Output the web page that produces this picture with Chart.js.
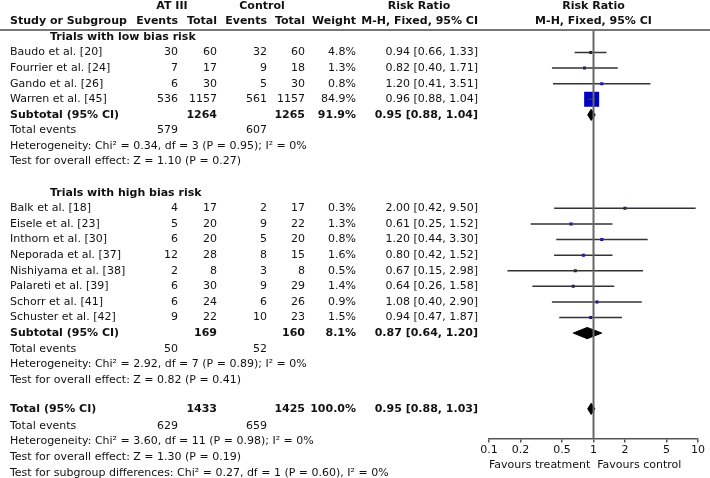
<!DOCTYPE html>
<html>
<head>
<meta charset="utf-8">
<script src="https://cdn.jsdelivr.net/npm/chart.js@4.4.1/dist/chart.umd.min.js"></script>
<style>
html, body { margin: 0; padding: 0; background: #fff; }
#wrap { width: 710px; height: 478px; }
</style>
</head>
<body>
<div id="wrap"><canvas id="forest" width="710" height="478"></canvas></div>
<script>
// trials with low bias risk
var lowStudies = ['Baudo et al. [20]', 'Fourrier et al. [24]', 'Gando et al. [26]', 'Warren et al. [45]'];
var lowAtEvents = [30, 7, 6, 536];
var lowAtTotal = [60, 17, 30, 1157];
var lowCtEvents = [32, 9, 5, 561];
var lowCtTotal = [60, 18, 30, 1157];
var lowWeight = [4.8, 1.3, 0.8, 84.9];
var lowRR = [0.94, 0.82, 1.20, 0.96];
var lowLo = [0.66, 0.40, 0.41, 0.88];
var lowHi = [1.33, 1.71, 3.51, 1.04];

// trials with high bias risk
var highStudies = ['Balk et al. [18]', 'Eisele et al. [23]', 'Inthorn et al. [30]', 'Neporada et al. [37]',
  'Nishiyama et al. [38]', 'Palareti et al. [39]', 'Schorr et al. [41]', 'Schuster et al. [42]'];
var highAtEvents = [4, 5, 6, 12, 2, 6, 6, 9];
var highAtTotal = [17, 20, 20, 28, 8, 30, 24, 22];
var highCtEvents = [2, 9, 5, 8, 3, 9, 6, 10];
var highCtTotal = [17, 22, 20, 15, 8, 29, 26, 23];
var highWeight = [0.3, 1.3, 0.8, 1.6, 0.5, 1.4, 0.9, 1.5];
var highRR = [2.00, 0.61, 1.20, 0.80, 0.67, 0.64, 1.08, 0.94];
var highLo = [0.42, 0.25, 0.44, 0.42, 0.15, 0.26, 0.40, 0.47];
var highHi = [9.50, 1.52, 3.30, 1.52, 2.98, 1.58, 2.90, 1.87];

// pooled results: [low, high, overall]
var poolAtTotal = [1264, 169, 1433];
var poolCtTotal = [1265, 160, 1425];
var poolWeight = [91.9, 8.1, 100.0];
var poolRR = [0.95, 0.87, 0.95];
var poolLo = [0.88, 0.64, 0.88];
var poolHi = [1.04, 1.20, 1.03];
var poolAtEvents = [579, 50, 629];
var poolCtEvents = [607, 52, 659];
var poolHet = ['Chi\u00b2 = 0.34, df = 3 (P = 0.95); I\u00b2 = 0%',
  'Chi\u00b2 = 2.92, df = 7 (P = 0.89); I\u00b2 = 0%',
  'Chi\u00b2 = 3.60, df = 11 (P = 0.98); I\u00b2 = 0%'];
var poolZ = ['Z = 1.10 (P = 0.27)', 'Z = 0.82 (P = 0.41)', 'Z = 1.30 (P = 0.19)'];
var subgroupTest = 'Chi\u00b2 = 0.27, df = 1 (P = 0.60), I\u00b2 = 0%';

var axisTicks = [0.1, 0.2, 0.5, 1, 2, 5, 10];

var FONT = '"DejaVu Sans", sans-serif';
var TXT = '#111';
var col = {name: 10, group: 50, atE: 178, atT: 217, ctE: 267, ctT: 305, w: 356, rr: 478};
var ruleRow = 1.55;
var halfDiamond = 0.36;

// build the table rows; each row sits at a y value in row units
var rows = [];
var cursor = 0;
function addRow(cells, step) { rows.push({y: cursor, cells: cells}); cursor += (step || 1); return rows[rows.length - 1].y; }
function cell(text, x, align, bold) { return {text: String(text), x: x, align: align || 'right', bold: !!bold}; }
function rr(e, l, h) { return e.toFixed(2) + ' [' + l.toFixed(2) + ', ' + h.toFixed(2) + ']'; }

addRow([cell('AT III', 172, 'center', true), cell('Control', 262, 'center', true), cell('Risk Ratio', 419, 'center', true), cell('Risk Ratio', 'ref', 'center', true)]);
addRow([cell('Study or Subgroup', col.name, 'left', true), cell('Events', col.atE, 'right', true), cell('Total', col.atT, 'right', true),
  cell('Events', col.ctE, 'right', true), cell('Total', col.ctT, 'right', true), cell('Weight', col.w, 'right', true),
  cell('M-H, Fixed, 95% CI', col.rr, 'right', true), cell('M-H, Fixed, 95% CI', 'ref', 'center', true)]);

var studyRows = [], poolRows = [];
function addGroup(title, names, ae, at, ce, ct, w, est, lo, hi, g) {
  addRow([cell(title, col.group, 'left', true)]);
  for (var i = 0; i < names.length; i++) {
    var r = addRow([cell(names[i], col.name, 'left'), cell(ae[i], col.atE), cell(at[i], col.atT), cell(ce[i], col.ctE),
      cell(ct[i], col.ctT), cell(w[i].toFixed(1) + '%', col.w), cell(rr(est[i], lo[i], hi[i]), col.rr)]);
    studyRows.push({row: r, est: est[i], lo: lo[i], hi: hi[i], w: w[i]});
  }
  addPooled('Subtotal (95% CI)', g, 1);
}
function addPooled(label, g, step) {
  var r = addRow([cell(label, col.name, 'left', true), cell(poolAtTotal[g], col.atT, 'right', true), cell(poolCtTotal[g], col.ctT, 'right', true),
    cell(poolWeight[g].toFixed(1) + '%', col.w, 'right', true), cell(rr(poolRR[g], poolLo[g], poolHi[g]), col.rr, 'right', true)], step);
  poolRows.push({row: r, est: poolRR[g], lo: poolLo[g], hi: poolHi[g]});
  addRow([cell('Total events', col.name, 'left'), cell(poolAtEvents[g], col.atE), cell(poolCtEvents[g], col.ctE)]);
  addRow([cell('Heterogeneity: ' + poolHet[g], col.name, 'left')]);
  addRow([cell('Test for overall effect: ' + poolZ[g], col.name, 'left')]);
}
addGroup('Trials with low bias risk', lowStudies, lowAtEvents, lowAtTotal, lowCtEvents, lowCtTotal, lowWeight, lowRR, lowLo, lowHi, 0);
cursor += 1;
addGroup('Trials with high bias risk', highStudies, highAtEvents, highAtTotal, highCtEvents, highCtTotal, highWeight, highRR, highLo, highHi, 1);
cursor += 0.86;
addPooled('Total (95% CI)', 2, 1.1);
addRow([cell('Test for subgroup differences: ' + subgroupTest, col.name, 'left')]);

// datasets
var datasets = [];
datasets.push({type: 'line', showLine: true, data: [{x: 1, y: ruleRow}, {x: 1, y: 40}], borderColor: '#666',
  borderWidth: 2, pointRadius: 0, fill: false});
studyRows.forEach(function (s) {
  datasets.push({type: 'line', showLine: true, data: [{x: s.lo, y: s.row}, {x: s.hi, y: s.row}], borderColor: '#333',
    borderWidth: 1.5, pointRadius: 0, fill: false});
});
datasets.push({
  type: 'scatter',
  data: studyRows.map(function (s) { return {x: s.est, y: s.row}; }),
  pointStyle: 'rect',
  pointRadius: studyRows.map(function (s) { return Math.max(3, 15 * s.w / 84.9) / (2 * Math.SQRT1_2); }),
  backgroundColor: '#0000c4', borderWidth: 0
});
poolRows.forEach(function (p) {
  datasets.push({type: 'line', showLine: true, fill: 'shape', backgroundColor: '#000', borderColor: '#000', borderWidth: 1,
    pointRadius: 0, tension: 0,
    data: [{x: p.lo, y: p.row}, {x: p.est, y: p.row - halfDiamond}, {x: p.hi, y: p.row},
      {x: p.est, y: p.row + halfDiamond}, {x: p.lo, y: p.row}]});
});

var tablePlugin = {
  id: 'table',
  afterDraw: function (chart) {
    var ctx = chart.ctx, y = chart.scales.y, x = chart.scales.x;
    ctx.save();
    // header rule
    ctx.strokeStyle = '#777';
    ctx.lineWidth = 2;
    ctx.beginPath();
    ctx.moveTo(0, y.getPixelForValue(ruleRow));
    ctx.lineTo(710, y.getPixelForValue(ruleRow));
    ctx.stroke();
    ctx.fillStyle = TXT;
    ctx.textBaseline = 'middle';
    rows.forEach(function (row) {
      var py = y.getPixelForValue(row.y);
      row.cells.forEach(function (c) {
        ctx.font = (c.bold ? 'bold ' : '') + '11px ' + FONT;
        ctx.textAlign = c.align;
        var px = c.x === 'ref' ? x.getPixelForValue(1) : c.x;
        ctx.fillText(c.text, px, py);
      });
    });
    ctx.restore();
  }
};

new Chart(document.getElementById('forest'), {
  type: 'scatter',
  data: {datasets: datasets},
  options: {
    responsive: false,
    animation: false,
    devicePixelRatio: 1,
    layout: {autoPadding: false, padding: {left: 489, right: 12, top: 0, bottom: 4}},
    plugins: {legend: {display: false}, tooltip: {enabled: false}},
    scales: {
      x: {
        type: 'logarithmic', min: 0.1, max: 10,
        afterBuildTicks: function (s) { s.ticks = axisTicks.map(function (v) { return {value: v}; }); },
        ticks: {autoSkip: false, maxRotation: 0, padding: 1, color: TXT, font: {family: FONT, size: 11},
          callback: function (v) { return String(v); }},
        grid: {drawOnChartArea: false, tickLength: 4, color: '#555', lineWidth: 1.5},
        border: {color: '#555', width: 1.5},
        title: {display: true, text: 'Favours treatment  Favours control', align: 'start', color: TXT,
          font: {family: FONT, size: 11}, padding: {top: 1, bottom: 2}}
      },
      y: {type: 'linear', reverse: true, min: -0.368, max: 27.77, display: false}
    }
  },
  plugins: [tablePlugin]
});
</script>
</body>
</html>
